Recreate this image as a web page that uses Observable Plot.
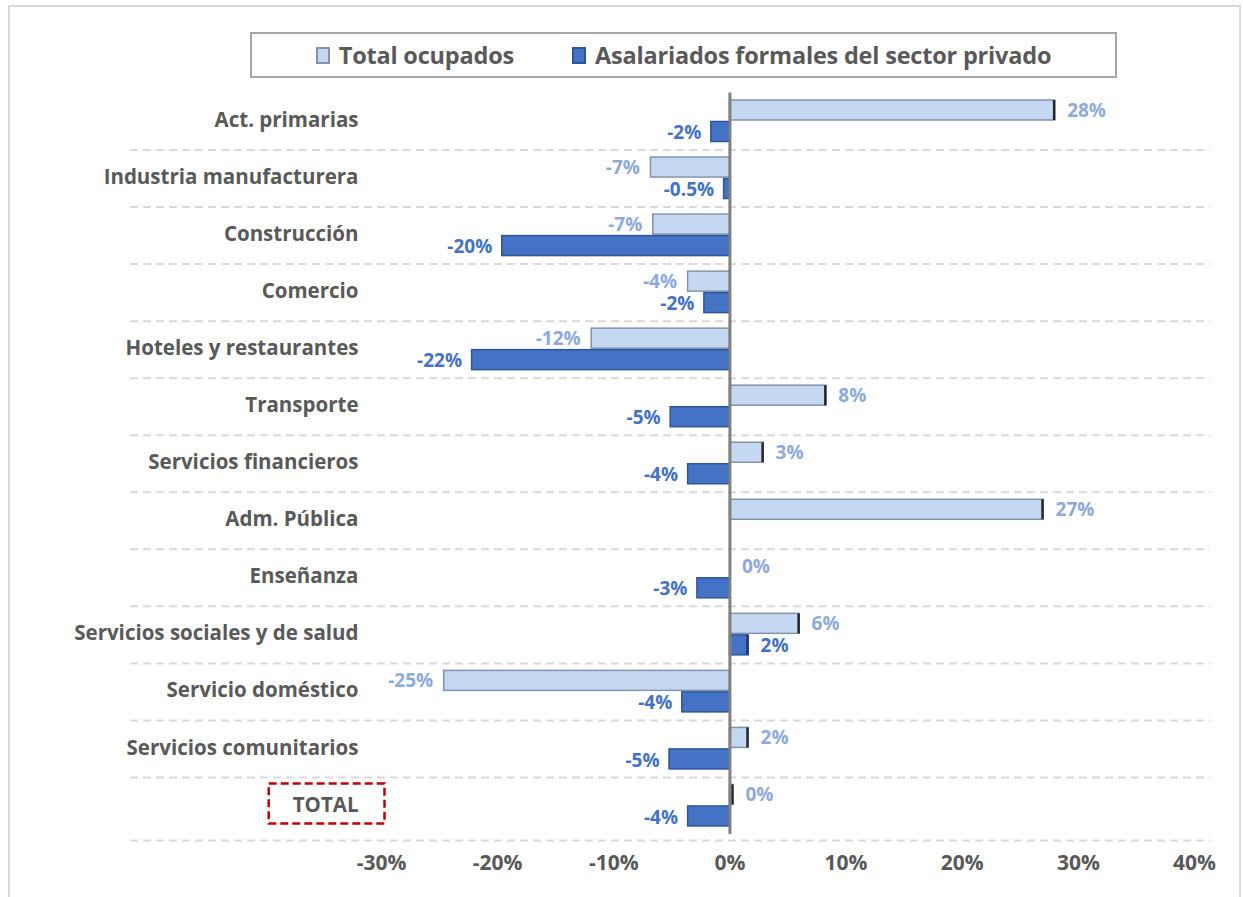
<!DOCTYPE html>
<html><head><meta charset="utf-8">
<script src="https://cdn.jsdelivr.net/npm/d3@7"></script>
<script src="https://cdn.jsdelivr.net/npm/@observablehq/plot@0.6"></script>
<style>
body{margin:0;background:#fff;font-family:"Open Sans",Lato,sans-serif}
#wrap{position:relative;width:1243px;height:897px;overflow:hidden;background:#fff}
#frame{position:absolute;left:8px;top:5px;width:1233px;height:900px;border:2px solid #d9d9d9;border-bottom:none;box-sizing:border-box;pointer-events:none}
#legend{position:absolute;left:250px;top:32px;width:867px;height:46px;border:2px solid #a6a6a6;box-sizing:border-box;display:flex;align-items:center;justify-content:center;gap:58px;font-weight:bold;font-size:23.5px;color:#595959;background:#fff;letter-spacing:-0.2px}
#legend .it{display:flex;align-items:center;gap:9px}
#legend .sw{width:14px;height:17px;box-sizing:border-box;border:2px solid}
#chart{position:absolute;left:0;top:0}
#chart svg{display:block}
</style></head>
<body><div id="wrap"><div id="chart"></div><div id="frame"></div><div id="legend"></div></div>
<script>
const categories = ["Act. primarias","Industria manufacturera","Construcción","Comercio","Hoteles y restaurantes","Transporte","Servicios financieros","Adm. Pública","Enseñanza","Servicios sociales y de salud","Servicio doméstico","Servicios comunitarios","TOTAL"];
const seriesNames = ["Total ocupados","Asalariados formales del sector privado"];
const totalOcupados = [28.0,-6.8,-6.6,-3.6,-11.9,8.3,2.9,27.0,0,6.0,-24.6,1.6,0.3];
const totalLabels = ["28%","-7%","-7%","-4%","-12%","8%","3%","27%","0%","6%","-25%","2%","0%"];
const asalariados = [-1.6,-0.5,-19.6,-2.2,-22.2,-5.1,-3.6,null,-2.8,1.6,-4.1,-5.2,-3.6];
const asalLabels = ["-2%","-0.5%","-20%","-2%","-22%","-5%","-4%","","-3%","2%","-4%","-5%","-4%"];
const xTicks = [-30,-20,-10,0,10,20,30,40];
const xTickLabels = ["-30%","-20%","-10%","0%","10%","20%","30%","40%"];

const colors = {lightFill:"#C5D8F2", lightStroke:"#8493AA", darkFill:"#4472C4", darkStroke:"#2F5597", lightText:"#8EA9DB", darkText:"#4472C4", grey:"#595959"};

const rows = categories.map((c,i)=>({cat:c,total:totalOcupados[i],tl:totalLabels[i],asal:asalariados[i],al:asalLabels[i]}));
const W=1243,H=897,mT=92.5,mB=63;
const step=(H-mT-mB)/categories.length;
const font="'Open Sans', Lato, sans-serif";
const fs=20.5, vfs=19;
const lastCat=categories[categories.length-1];

const plot = Plot.plot({
  width:W,height:H,marginTop:mT,marginBottom:mB,marginLeft:381,marginRight:49,
  style:{fontFamily:font,color:colors.grey,background:"transparent",overflow:"visible"},
  x:{domain:[-30,40],label:null},
  y:{domain:categories,padding:0,round:false,label:null},
  marks:[
    Plot.ruleY(categories.filter(c=>c!==lastCat),{y:d=>d,dy:step/2,stroke:"#d9d9d9",strokeWidth:2,strokeDasharray:"8,5",insetLeft:-251,insetRight:-16}),
    Plot.ruleY([lastCat],{y:d=>d,dy:step/2+6,stroke:"#d9d9d9",strokeWidth:2,strokeDasharray:"8,5",insetLeft:-251,insetRight:-16}),
    Plot.barX(rows,{y:"cat",x:"total",fill:colors.lightFill,stroke:colors.lightStroke,strokeWidth:1.5,insetTop:7.5,insetBottom:step-27.5}),
    Plot.barX(rows.filter(d=>d.asal!=null),{y:"cat",x:"asal",fill:colors.darkFill,stroke:colors.darkStroke,strokeWidth:1.5,insetTop:29,insetBottom:step-49}),
    Plot.tickX(rows.filter(d=>d.total>0),{y:"cat",x:"total",stroke:"#262626",strokeWidth:2.5,insetTop:7.5,insetBottom:step-27.5,dx:-1}),
    Plot.tickX(rows.filter(d=>d.asal>0),{y:"cat",x:"asal",stroke:"#1f3864",strokeWidth:2.5,insetTop:29,insetBottom:step-49,dx:-1}),
    Plot.ruleX([0],{stroke:"#808080",strokeWidth:3}),
    Plot.text(rows.filter(d=>d.total>=0),{y:"cat",x:"total",text:"tl",textAnchor:"start",dx:12,dy:-11,fill:colors.lightText,fontWeight:"bold",fontSize:vfs}),
    Plot.text(rows.filter(d=>d.total<0),{y:"cat",x:"total",text:"tl",textAnchor:"end",dx:-11,dy:-11,fill:colors.lightText,fontWeight:"bold",fontSize:vfs}),
    Plot.text(rows.filter(d=>d.asal!=null&&d.asal>=0),{y:"cat",x:"asal",text:"al",textAnchor:"start",dx:12,dy:11.5,fill:colors.darkText,fontWeight:"bold",fontSize:vfs}),
    Plot.text(rows.filter(d=>d.asal!=null&&d.asal<0),{y:"cat",x:"asal",text:"al",textAnchor:"end",dx:-10,dy:11.5,fill:colors.darkText,fontWeight:"bold",fontSize:vfs}),
    Plot.axisX({ticks:xTicks,tickFormat:d=>xTickLabels[xTicks.indexOf(d)],tickSize:0,tickPadding:21,fontSize:21,fontWeight:"bold",fill:colors.grey,label:null}),
    Plot.axisY({tickSize:0,tickPadding:23,fontSize:fs,fontWeight:"bold",fill:colors.grey,label:null,dy:-1})
  ]
});
document.getElementById("chart").appendChild(plot);

// legend
const lg=document.getElementById("legend");
[[seriesNames[0],colors.lightFill,colors.lightStroke],[seriesNames[1],colors.darkFill,colors.darkStroke]].forEach(([n,f,s])=>{
  const it=document.createElement("div");it.className="it";
  const sw=document.createElement("span");sw.className="sw";sw.style.background=f;sw.style.borderColor=s;
  const t=document.createElement("span");t.textContent=n;
  it.appendChild(sw);it.appendChild(t);lg.appendChild(it);
});

// dashed red box around TOTAL label
const texts=[...plot.querySelectorAll("text")].filter(t=>t.textContent===lastCat);
if(texts.length){
  const t=texts[0];const b=t.getBBox();
  const ns="http://www.w3.org/2000/svg";
  const r=document.createElementNS(ns,"rect");
  r.setAttribute("x",b.x-24);r.setAttribute("y",b.y+b.height/2-20);
  r.setAttribute("width",b.width+50);r.setAttribute("height",40);
  r.setAttribute("fill","none");r.setAttribute("stroke","#C00000");r.setAttribute("stroke-width",2.5);r.setAttribute("stroke-dasharray","8,4");
  if(t.getAttribute("transform")) r.setAttribute("transform",t.getAttribute("transform"));
  t.parentNode.insertBefore(r,t);
}
</script></body></html>
